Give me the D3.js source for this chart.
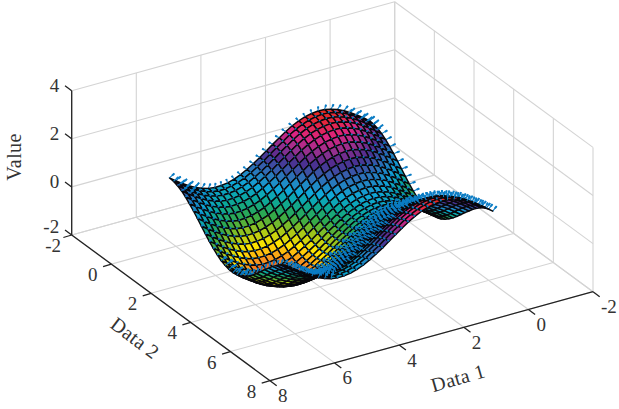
<!DOCTYPE html>
<html>
<head>
<meta charset="utf-8">
<script src="https://cdn.jsdelivr.net/npm/d3@7"></script>
<style>
html, body { margin: 0; padding: 0; background: #fff; }
text { font-family: "Liberation Serif", serif; font-size: 19px; fill: #333; }
text.title { font-size: 20px; letter-spacing: 0.4px; }
</style>
</head>
<body>
<svg id="chart" width="619" height="409"></svg>
<script>
// tick labels
var ticksData1 = [-2, 0, 2, 4, 6, 8];
var ticksData2 = [-2, 0, 2, 4, 6, 8];
var ticksValue = [-2, 0, 2, 4];

// grid of the surface
var data1Values = [0, .2, .4, .6, .8, 1, 1.2, 1.4, 1.6, 1.8, 2, 2.2, 2.4, 2.6, 2.8, 3, 3.2, 3.4, 3.6, 3.8, 4, 4.2, 4.4, 4.6, 4.8, 5, 5.2, 5.4, 5.6, 5.8, 6, 6.2];
var data2Values = [0, .2, .4, .6, .8, 1, 1.2, 1.4, 1.6, 1.8, 2, 2.2, 2.4, 2.6, 2.8, 3, 3.2, 3.4, 3.6, 3.8, 4, 4.2, 4.4, 4.6, 4.8, 5, 5.2, 5.4, 5.6, 5.8, 6, 6.2];

// one row per data2 value, one column per data1 value
var zValues = [
[1,1.2,1.39,1.56,1.72,1.84,1.93,1.99,2,1.97,1.91,1.81,1.68,1.52,1.33,1.14,.94,.74,.56,.39,.24,.13,.05,.01,0,.04,.12,.23,.37,.54,.72,.92],
[.98,1.18,1.37,1.54,1.7,1.82,1.91,1.97,1.98,1.95,1.89,1.79,1.66,1.5,1.31,1.12,.92,.72,.54,.37,.22,.11,.03,-.01,-.02,.02,.1,.21,.35,.52,.7,.9],
[.92,1.12,1.31,1.48,1.64,1.76,1.85,1.91,1.92,1.89,1.83,1.73,1.6,1.44,1.25,1.06,.86,.66,.48,.31,.16,.05,-.03,-.07,-.08,-.04,.04,.15,.29,.46,.64,.84],
[.83,1.03,1.22,1.39,1.55,1.67,1.76,1.82,1.83,1.8,1.74,1.64,1.51,1.35,1.16,.97,.77,.57,.39,.22,.07,-.04,-.12,-.16,-.17,-.13,-.05,.06,.2,.37,.55,.75],
[.7,.9,1.09,1.26,1.42,1.54,1.63,1.69,1.7,1.67,1.61,1.51,1.38,1.22,1.03,.84,.64,.44,.26,.09,-.06,-.17,-.25,-.29,-.3,-.26,-.18,-.07,.07,.24,.42,.62],
[.54,.74,.93,1.1,1.26,1.38,1.47,1.53,1.54,1.51,1.45,1.35,1.22,1.06,.87,.68,.48,.28,.1,-.07,-.22,-.33,-.41,-.45,-.46,-.42,-.34,-.23,-.09,.08,.26,.46],
[.36,.56,.75,.92,1.08,1.2,1.29,1.35,1.36,1.33,1.27,1.17,1.04,.88,.69,.5,.3,.1,-.08,-.25,-.4,-.51,-.59,-.63,-.64,-.6,-.52,-.41,-.27,-.1,.08,.28],
[.17,.37,.56,.73,.89,1.01,1.1,1.16,1.17,1.14,1.08,.98,.85,.69,.5,.31,.11,-.09,-.27,-.44,-.59,-.7,-.78,-.82,-.83,-.79,-.71,-.6,-.46,-.29,-.11,.09],
[-.03,.17,.36,.53,.69,.81,.9,.96,.97,.94,.88,.78,.65,.49,.3,.11,-.09,-.29,-.47,-.64,-.79,-.9,-.98,-1.02,-1.03,-.99,-.91,-.8,-.66,-.49,-.31,-.11],
[-.23,-.03,.16,.33,.49,.61,.7,.76,.77,.74,.68,.58,.45,.29,.1,-.09,-.29,-.49,-.67,-.84,-.99,-1.1,-1.18,-1.22,-1.23,-1.19,-1.11,-1,-.86,-.69,-.51,-.31],
[-.42,-.22,-.03,.14,.3,.42,.51,.57,.58,.55,.49,.39,.26,.1,-.09,-.28,-.48,-.68,-.86,-1.03,-1.18,-1.29,-1.37,-1.41,-1.42,-1.38,-1.3,-1.19,-1.05,-.88,-.7,-.5],
[-.59,-.39,-.2,-.03,.13,.25,.34,.4,.41,.38,.32,.22,.09,-.07,-.26,-.45,-.65,-.85,-1.03,-1.2,-1.35,-1.46,-1.54,-1.58,-1.59,-1.55,-1.47,-1.36,-1.22,-1.05,-.87,-.67],
[-.74,-.54,-.35,-.18,-.02,.1,.19,.25,.26,.23,.17,.07,-.06,-.22,-.41,-.6,-.8,-1,-1.18,-1.35,-1.5,-1.61,-1.69,-1.73,-1.74,-1.7,-1.62,-1.51,-1.37,-1.2,-1.02,-.82],
[-.86,-.66,-.47,-.3,-.14,-.02,.07,.13,.14,.11,.05,-.05,-.18,-.34,-.53,-.72,-.92,-1.12,-1.3,-1.47,-1.62,-1.73,-1.81,-1.85,-1.86,-1.82,-1.74,-1.63,-1.49,-1.32,-1.14,-.94],
[-.94,-.74,-.55,-.38,-.22,-.1,-.01,.05,.06,.03,-.03,-.13,-.26,-.42,-.61,-.8,-1,-1.2,-1.38,-1.55,-1.7,-1.81,-1.89,-1.93,-1.94,-1.9,-1.82,-1.71,-1.57,-1.4,-1.22,-1.02],
[-.99,-.79,-.6,-.43,-.27,-.15,-.06,0,.01,-.02,-.08,-.18,-.31,-.47,-.66,-.85,-1.05,-1.25,-1.43,-1.6,-1.75,-1.86,-1.94,-1.98,-1.99,-1.95,-1.87,-1.76,-1.62,-1.45,-1.27,-1.07],
[-1,-.8,-.61,-.44,-.28,-.16,-.07,-.01,0,-.03,-.09,-.19,-.32,-.48,-.67,-.86,-1.06,-1.26,-1.44,-1.61,-1.76,-1.87,-1.95,-1.99,-2,-1.96,-1.88,-1.77,-1.63,-1.46,-1.28,-1.08],
[-.97,-.77,-.58,-.41,-.25,-.13,-.04,.02,.03,0,-.06,-.16,-.29,-.45,-.64,-.83,-1.03,-1.23,-1.41,-1.58,-1.73,-1.84,-1.92,-1.96,-1.97,-1.93,-1.85,-1.74,-1.6,-1.43,-1.25,-1.05],
[-.9,-.7,-.51,-.34,-.18,-.06,.03,.09,.1,.07,.01,-.09,-.22,-.38,-.57,-.76,-.96,-1.16,-1.34,-1.51,-1.66,-1.77,-1.85,-1.89,-1.9,-1.86,-1.78,-1.67,-1.53,-1.36,-1.18,-.98],
[-.79,-.59,-.4,-.23,-.07,.05,.14,.2,.21,.18,.12,.02,-.11,-.27,-.46,-.65,-.85,-1.05,-1.23,-1.4,-1.55,-1.66,-1.74,-1.78,-1.79,-1.75,-1.67,-1.56,-1.42,-1.25,-1.07,-.87],
[-.65,-.45,-.26,-.09,.07,.19,.28,.34,.35,.32,.26,.16,.03,-.13,-.32,-.51,-.71,-.91,-1.09,-1.26,-1.41,-1.52,-1.6,-1.64,-1.65,-1.61,-1.53,-1.42,-1.28,-1.11,-.93,-.73],
[-.49,-.29,-.1,.07,.23,.35,.44,.5,.51,.48,.42,.32,.19,.03,-.16,-.35,-.55,-.75,-.93,-1.1,-1.25,-1.36,-1.44,-1.48,-1.49,-1.45,-1.37,-1.26,-1.12,-.95,-.77,-.57],
[-.31,-.11,.08,.25,.41,.53,.62,.68,.69,.66,.6,.5,.37,.21,.02,-.17,-.37,-.57,-.75,-.92,-1.07,-1.18,-1.26,-1.3,-1.31,-1.27,-1.19,-1.08,-.94,-.77,-.59,-.39],
[-.11,.09,.28,.45,.61,.73,.82,.88,.89,.86,.8,.7,.57,.41,.22,.03,-.17,-.37,-.55,-.72,-.87,-.98,-1.06,-1.1,-1.11,-1.07,-.99,-.88,-.74,-.57,-.39,-.19],
[.09,.29,.48,.65,.81,.93,1.02,1.08,1.09,1.06,1,.9,.77,.61,.42,.23,.03,-.17,-.35,-.52,-.67,-.78,-.86,-.9,-.91,-.87,-.79,-.68,-.54,-.37,-.19,.01],
[.28,.48,.67,.84,1,1.12,1.21,1.27,1.28,1.25,1.19,1.09,.96,.8,.61,.42,.22,.02,-.16,-.33,-.48,-.59,-.67,-.71,-.72,-.68,-.6,-.49,-.35,-.18,0,.2],
[.47,.67,.86,1.03,1.19,1.31,1.4,1.46,1.47,1.44,1.38,1.28,1.15,.99,.8,.61,.41,.21,.03,-.14,-.29,-.4,-.48,-.52,-.53,-.49,-.41,-.3,-.16,.01,.19,.39],
[.63,.83,1.02,1.19,1.35,1.47,1.56,1.62,1.63,1.6,1.54,1.44,1.31,1.15,.96,.77,.57,.37,.19,.02,-.13,-.24,-.32,-.36,-.37,-.33,-.25,-.14,0,.17,.35,.55],
[.78,.98,1.17,1.34,1.5,1.62,1.71,1.77,1.78,1.75,1.69,1.59,1.46,1.3,1.11,.92,.72,.52,.34,.17,.02,-.09,-.17,-.21,-.22,-.18,-.1,.01,.15,.32,.5,.7],
[.89,1.09,1.28,1.45,1.61,1.73,1.82,1.88,1.89,1.86,1.8,1.7,1.57,1.41,1.22,1.03,.83,.63,.45,.28,.13,.02,-.06,-.1,-.11,-.07,.01,.12,.26,.43,.61,.81],
[.96,1.16,1.35,1.52,1.68,1.8,1.89,1.95,1.96,1.93,1.87,1.77,1.64,1.48,1.29,1.1,.9,.7,.52,.35,.2,.09,.01,-.03,-.04,0,.08,.19,.33,.5,.68,.88],
[1,1.2,1.39,1.56,1.72,1.84,1.93,1.99,2,1.97,1.91,1.81,1.68,1.52,1.33,1.14,.94,.74,.56,.39,.24,.13,.05,.01,0,.04,.12,.23,.37,.54,.72,.92]
];

var svg = d3.select("#chart");

// oblique projection, each data axis adds its own screen offset
var originX = 71.7, originY = 235;
var d1X = d3.scaleLinear().domain([-2, 8]).range([323, 0]);
var d1Y = d3.scaleLinear().domain([-2, 8]).range([-89, 0]);
var d2X = d3.scaleLinear().domain([-2, 8]).range([0, 198.3]);
var d2Y = d3.scaleLinear().domain([-2, 8]).range([0, 145.7]);
var zY = d3.scaleLinear().domain([-2, 4]).range([0, -144.3]);

function project(a, b, c) {
    return [originX + d1X(a) + d2X(b), originY + d1Y(a) + d2Y(b) + zY(c)];
}
// bigger is nearer to the viewer
function depth(a, b, c) {
    return 19.83 * a + 32.3 * b + 26.9 * c;
}

var colorScale = d3.scaleLinear()
    .domain([-2, -1.65, -1.33, -0.95, -0.6, -0.2, 0.1, 0.5, 0.9, 1.2, 1.55, 2])
    .range(["#e8281f", "#f7941d", "#ffe500", "#9ac31c", "#2fa84a", "#0aa79c", "#10a6d6", "#2e6fb6", "#4d2c8f", "#93308f", "#db2482", "#e8281f"]);

var line = d3.line();

//walls and floor grid
function drawGrid() {
    var g = svg.append("g").attr("fill", "none").attr("stroke", "#d4d4d4").attr("stroke-width", 1.1);
    var seg = function (p, q) { g.append("path").attr("d", line([p, q])); };
    ticksValue.forEach(function (v) {
        seg(project(8, -2, v), project(-2, -2, v));
        seg(project(-2, -2, v), project(-2, 8, v));
    });
    ticksData1.forEach(function (v) {
        seg(project(v, -2, -2), project(v, 8, -2));
        seg(project(v, -2, -2), project(v, -2, 4));
    });
    ticksData2.forEach(function (v) {
        seg(project(8, v, -2), project(-2, v, -2));
        seg(project(-2, v, -2), project(-2, v, 4));
    });
}

//faces and normals sorted together, far ones first
function drawSurface() {
    var items = [];
    var n1 = data1Values.length, n2 = data2Values.length;
    for (let j = 0; j < n2; j++) {
        for (let i = 0; i < n1; i++) {
            let z = zValues[j][i];
            if (i < n1 - 1 && j < n2 - 1) {
                let a = [data1Values[i], data2Values[j], z];
                let b = [data1Values[i + 1], data2Values[j], zValues[j][i + 1]];
                let c = [data1Values[i + 1], data2Values[j + 1], zValues[j + 1][i + 1]];
                let d = [data1Values[i], data2Values[j + 1], zValues[j + 1][i]];
                let mean = (a[2] + b[2] + c[2] + d[2]) / 4;
                items.push({
                    type: "face",
                    d: line([a, b, c, d].map(p => project(p[0], p[1], p[2]))) + "Z",
                    z: mean,
                    depth: depth((a[0] + c[0]) / 2, (a[1] + c[1]) / 2, mean)
                });
            }
            // normal from the slope of neighbouring cells
            let i0 = Math.max(i - 1, 0), i1 = Math.min(i + 1, n1 - 1);
            let j0 = Math.max(j - 1, 0), j1 = Math.min(j + 1, n2 - 1);
            let sx = (zValues[j][i1] - zValues[j][i0]) / (data1Values[i1] - data1Values[i0]);
            let sy = (zValues[j1][i] - zValues[j0][i]) / (data2Values[j1] - data2Values[j0]);
            let len = Math.sqrt(sx * sx + sy * sy + 1) / 0.2;
            let tip = [data1Values[i] - sx / len, data2Values[j] - sy / len, z + 1 / len];
            let p0 = project(data1Values[i], data2Values[j], z), p1 = project(tip[0], tip[1], tip[2]);
            // how much the normal faces the viewer
            let facing = (-sx * 19.83 - sy * 32.3 + 26.9) / (46.1 * Math.sqrt(sx * sx + sy * sy + 1));
            let full = j == 0 || i == 0 || facing < 0.38;
            let end = full ? p1 : [p0[0] + (p1[0] - p0[0]) * .4, p0[1] + (p1[1] - p0[1]) * .4];
            items.push({
                type: "normal",
                d: line([p0, end]),
                head: line([[p0[0] + (p1[0] - p0[0]) * .55, p0[1] + (p1[1] - p0[1]) * .55], p1]),
                full: full,
                // short ones stay on top of the mesh lines around their vertex
                depth: depth(tip[0], tip[1], tip[2]) + (full ? 0 : 14)
            });
        }
    }
    items.sort((p, q) => p.depth - q.depth);
    var gs = svg.append("g").selectAll("g")
        .data(items)
        .enter()
        .append("g");
    gs.append("path")
        .attr("d", d => d.d)
        .attr("fill", d => d.type == "face" ? colorScale(d.z) : "none")
        .attr("stroke", d => d.type == "face" ? "#08080c" : "#0b7cc4")
        .attr("stroke-width", d => d.type == "face" ? 1.45 : d.full ? 1.1 : 1.6)
        .attr("stroke-linejoin", "round");
    // fat tip stands in for the arrow head
    gs.filter(d => d.type == "normal" && d.full).append("path")
        .attr("d", d => d.head)
        .attr("fill", "none")
        .attr("stroke", "#0b7cc4")
        .attr("stroke-width", 2);
}

//dark axes with short ticks and labels
function drawAxes() {
    var g = svg.append("g").attr("fill", "none").attr("stroke", "#222").attr("stroke-width", 1.3);
    g.append("path").attr("d", line([project(8, -2, -2), project(8, -2, 4)]));
    g.append("path").attr("d", line([project(8, -2, -2), project(8, 8, -2)]));
    g.append("path").attr("d", line([project(8, 8, -2), project(-2, 8, -2)]));

    ticksValue.forEach(function (v) {
        let p = project(8, -2, v);
        g.append("path").attr("d", line([p, [p[0] - 6.7, p[1] - 5]]));
        svg.append("text").attr("x", p[0] - 12.5).attr("y", p[1] + (v == -2 ? -8 : -5)).attr("dy", "0.34em")
            .attr("text-anchor", "end").text(v);
    });
    ticksData2.forEach(function (v) {
        let p = project(8, v, -2);
        g.append("path").attr("d", line([p, [p[0] - 8.3, p[1] + 2.5]]));
        svg.append("text").attr("x", p[0] - 18.5).attr("y", p[1] + 10.5).attr("dy", "0.34em")
            .attr("text-anchor", "middle").text(v);
    });
    ticksData1.forEach(function (v) {
        let p = project(v, 8, -2);
        g.append("path").attr("d", line([p, [p[0] + 6.7, p[1] + 5]]));
        svg.append("text").attr("x", p[0] + 8).attr("y", p[1] + 15).attr("dy", "0.34em")
            .attr("text-anchor", "start").text(v);
    });

    svg.append("text").attr("class", "title").attr("transform", "translate(14,157) rotate(-90)").attr("dy", "0.34em")
        .attr("text-anchor", "middle").text("Value");
    svg.append("text").attr("class", "title").attr("transform", "translate(135,338) rotate(37)").attr("dy", "0.34em")
        .attr("text-anchor", "middle").text("Data 2");
    svg.append("text").attr("class", "title").attr("transform", "translate(458,378) rotate(-16)").attr("dy", "0.34em")
        .attr("text-anchor", "middle").text("Data 1");
}

drawGrid();
drawSurface();
drawAxes();
</script>
</body>
</html>
